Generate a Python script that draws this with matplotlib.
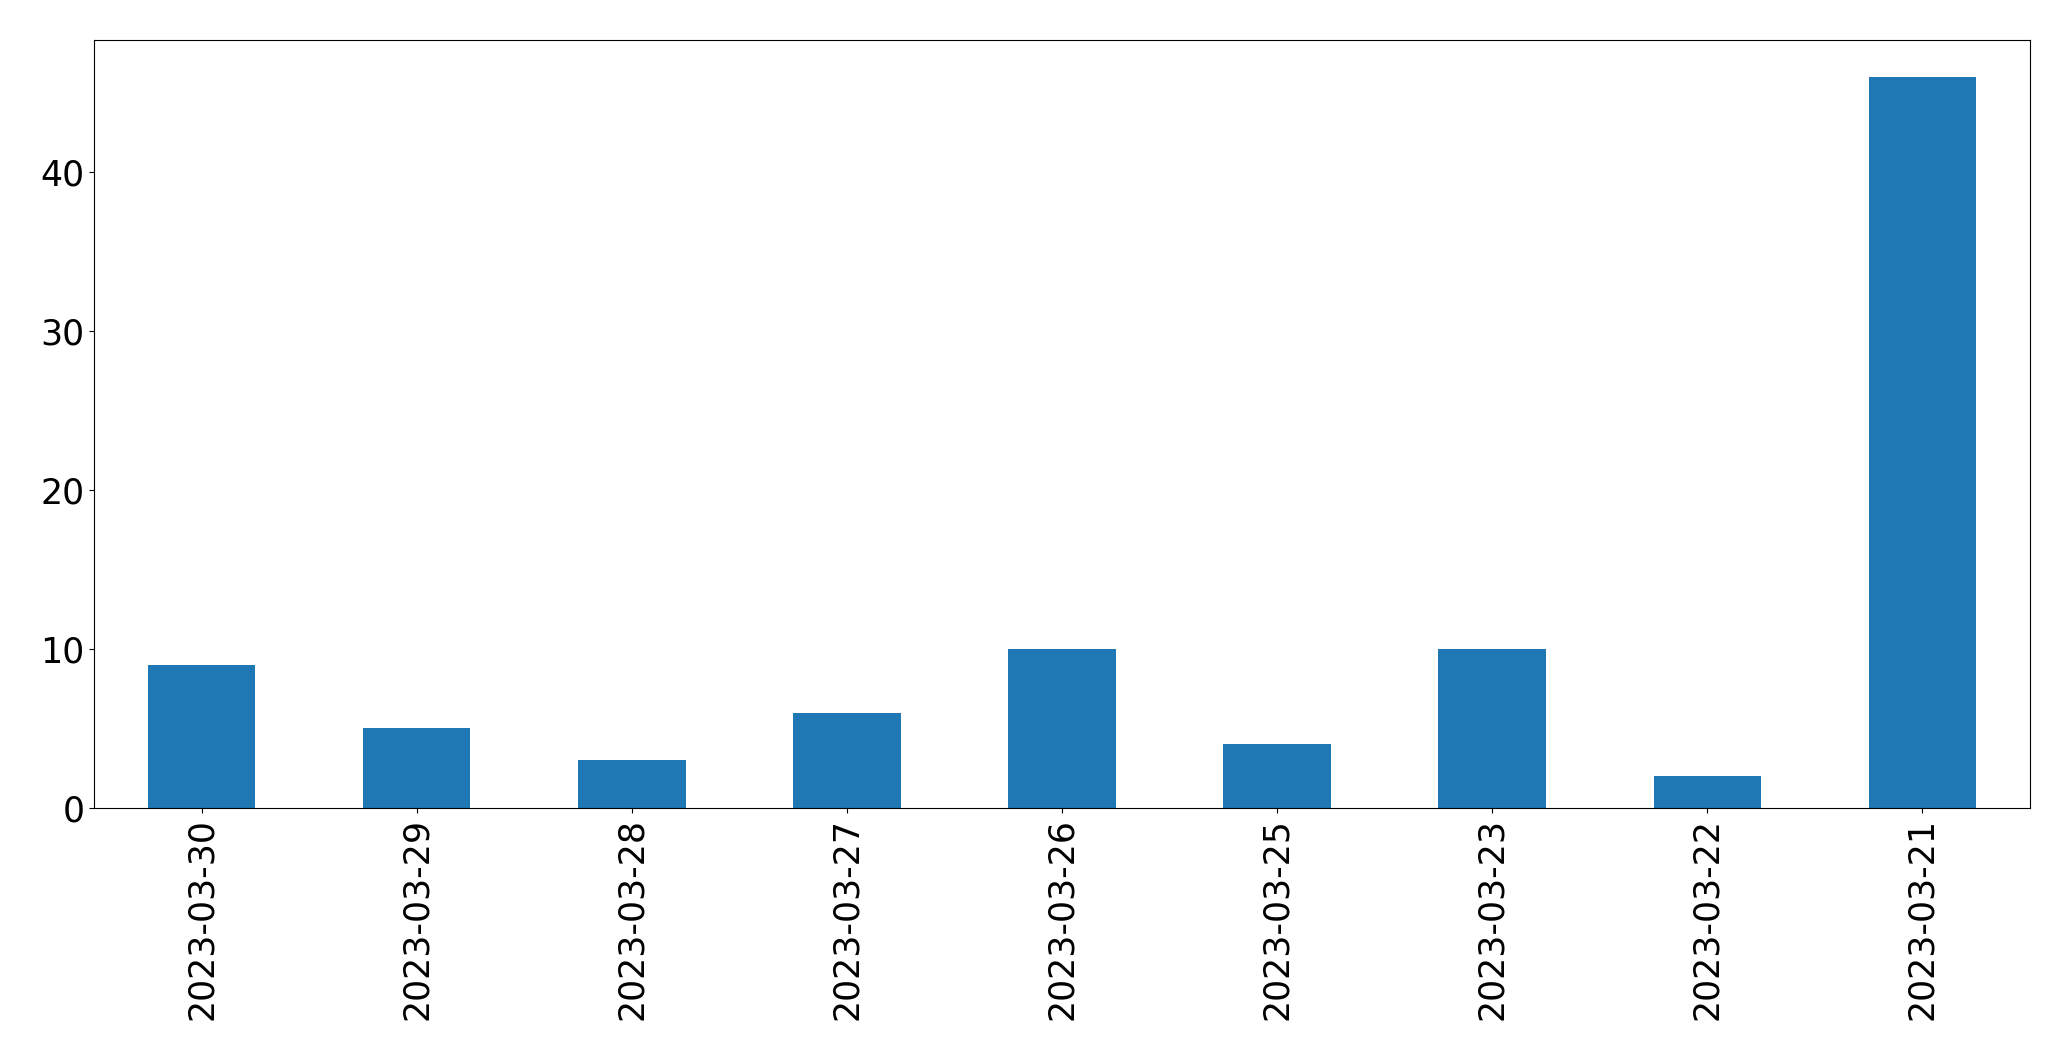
import matplotlib
matplotlib.use("Agg")
import matplotlib.pyplot as plt
import numpy as np

dates = ["2023-03-30", "2023-03-29", "2023-03-28", "2023-03-27", "2023-03-26",
         "2023-03-25", "2023-03-23", "2023-03-22", "2023-03-21"]
counts = [9, 5, 3, 6, 10, 4, 10, 2, 46]

fig = plt.figure(figsize=(20.71, 10.61), dpi=100)
ax = fig.add_axes([94/2071, 1-808/1061, (2030-94)/2071, (808-40)/1061])
x = np.arange(len(dates))
ax.bar(x, counts, width=0.5, color="#1f77b4")
ax.set_xlim(-0.5, len(dates)-0.5)
ax.set_xticks(x)
ax.set_xticklabels(dates, rotation=90)
ax.tick_params(labelsize=25)
fig.savefig("out.png", dpi=100)
